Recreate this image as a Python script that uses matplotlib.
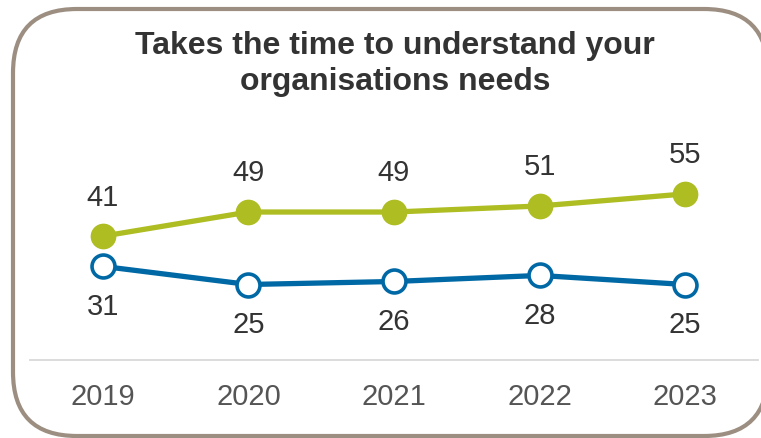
import matplotlib
matplotlib.use("Agg")
import matplotlib.pyplot as plt
from matplotlib.patches import FancyBboxPatch

years = ["2019", "2020", "2021", "2022", "2023"]
series_top = [41, 49, 49, 51, 55]
series_bottom = [31, 25, 26, 28, 25]
title = "Takes the time to understand your\norganisations needs"

GREEN = "#AEBD22"
BLUE = "#0069A5"
BORDER = "#9C8F82"
TEXT = "#333333"
TICK = "#555555"

W, H = 761, 439
fig = plt.figure(figsize=(W / 100, H / 100), dpi=100)
fig.patch.set_facecolor("white")
plt.rcParams["font.family"] = ["Liberation Sans", "DejaVu Sans"]

# rounded frame, drawn in pixel coordinates
frame_ax = fig.add_axes([0, 0, 1, 1])
frame_ax.set_xlim(0, W)
frame_ax.set_ylim(H, 0)
frame_ax.axis("off")
frame = FancyBboxPatch((13, 10), 755, 427,
                       boxstyle="round,pad=0,rounding_size=64",
                       facecolor="white", edgecolor=BORDER, linewidth=3.0)
frame_ax.add_patch(frame)

# plotting area
left, right, base, top = 30, 758, 361, 59
ax = fig.add_axes([left / W, (H - base) / H, (right - left) / W, (base - top) / H])
ax.set_facecolor("none")
x = list(range(len(years)))

ax.plot(x, series_top, color=GREEN, linewidth=3.8, marker="o",
        markersize=17.5, markerfacecolor=GREEN, markeredgecolor=GREEN,
        solid_capstyle="round", zorder=3)
ax.plot(x, series_bottom, color=BLUE, linewidth=3.8, marker="o",
        markersize=16.5, markerfacecolor="white", markeredgecolor=BLUE,
        markeredgewidth=2.6, zorder=3)

for xi, v in zip(x, series_top):
    ax.annotate(str(v), (xi, v), xytext=(0, 28.5), textcoords="offset points",
                ha="center", va="center", fontsize=21, color=TEXT)
for xi, v in zip(x, series_bottom):
    ax.annotate(str(v), (xi, v), xytext=(0, -28.5), textcoords="offset points",
                ha="center", va="center", fontsize=21, color=TEXT)

ax.set_xlim(-0.5, len(years) - 0.5)
ax.set_ylim(0, 100)
ax.set_xticks(x)
ax.set_xticklabels(years, fontsize=21, color=TICK)
ax.tick_params(axis="x", length=0, pad=16)
ax.set_yticks([])
for s in ["top", "left", "right"]:
    ax.spines[s].set_visible(False)
ax.spines["bottom"].set_color("#D9D9D9")
ax.spines["bottom"].set_linewidth(1.3)

fig.text(395 / W, 1 - 64 / H, title, ha="center", va="center",
         fontsize=23, fontweight="bold", color=TEXT, linespacing=1.3)

fig.savefig("out.png", dpi=100, facecolor="white")
